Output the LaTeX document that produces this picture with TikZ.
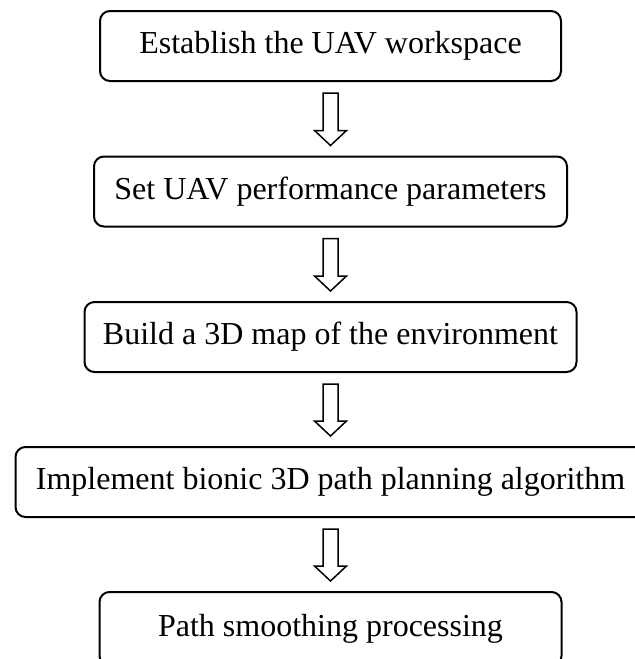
\documentclass[tikz,border=0pt]{standalone}
\usepackage{fontspec}
\setmainfont{Liberation Serif}
\usepackage{tikz}
\usetikzlibrary{calc}

\begin{document}
\begin{tikzpicture}[x=0.5pt, y=-0.5pt,
        stepbox/.style={draw, line width=1pt, rounded corners=5pt, inner sep=0pt,
            minimum height=35pt, font=\fontsize{16}{19}\selectfont},
        blockarrow/.style={draw, line width=0.75pt, line join=miter}]
                \useasboundingbox (0, 0) rectangle (635, 659);

                \node[stepbox, minimum width=230.5pt] (s1) at (330.5, 46) {Establish the UAV workspace};
                \node[stepbox, minimum width=236.5pt] (s2) at (330.5, 191.5) {Set UAV performance parameters};
                \node[stepbox, minimum width=246pt] (s3) at (330.5, 337) {Build a 3D map of the environment};
                \node[stepbox, minimum width=315pt] (s4) at (330.5, 482) {Implement bionic 3D path planning algorithm};
                \node[stepbox, minimum width=231pt, minimum height=37pt] (s5) at (330.5, 629) {Path smoothing processing};

                % hollow arrows between the steps
                \foreach \a/\b in {s1/s2, s2/s3, s3/s4, s4/s5}
                    \draw[blockarrow] ($(\a.south)+(-7.5, 11)$) -- ($(\b.north)+(-7.5, -25)$)
                        -- ++(-8.5, 0) -- ($(\b.north)+(0, -10)$) -- ($(\b.north)+(16, -25)$)
                        -- ++(-8.5, 0) -- ($(\a.south)+(7.5, 11)$) -- cycle;
            \end{tikzpicture}
\end{document}
